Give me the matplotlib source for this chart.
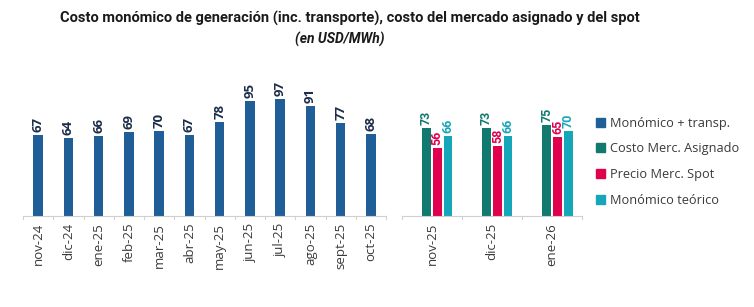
import matplotlib
matplotlib.use('Agg')
import matplotlib.pyplot as plt
import numpy as np

plt.rcParams['font.family'] = ['Open Sans', 'DejaVu Sans']

# historic monthly values
meses = ['nov-24', 'dic-24', 'ene-25', 'feb-25', 'mar-25', 'abr-25', 'may-25',
         'jun-25', 'jul-25', 'ago-25', 'sept-25', 'oct-25']
monomico = [67, 64, 66, 69, 70, 67, 78, 95, 97, 91, 77, 68]

# projection
meses_proy = ['nov-25', 'dic-25', 'ene-26']
costo_asignado = [73, 73, 75]
precio_spot = [56, 58, 65]
monomico_teorico = [66, 66, 70]

series_names = ['Monómico + transp.', 'Costo Merc. Asignado', 'Precio Merc. Spot', 'Monómico teórico']
colors = ['#1F5E96', '#12796F', '#E0004D', '#16A6B9']
label_dark = '#1B2D4A'

fig = plt.figure(figsize=(7.54, 3.07), dpi=100)

ax1 = fig.add_axes([0.0305, 0.297, 0.4815, 0.433])
ax2 = fig.add_axes([0.533, 0.297, 0.239, 0.433])

for ax in (ax1, ax2):
    for s in ['top', 'right', 'left']:
        ax.spines[s].set_visible(False)
    ax.spines['bottom'].set_color('#D0D0D0')
    ax.set_yticks([])
    ax.set_ylim(0, 110)
    ax.tick_params(axis='x', length=0, labelsize=9.5, labelcolor='#3A3A3A', pad=5)

# left chart
x1 = np.arange(len(meses))
ax1.bar(x1, monomico, width=0.31, color=colors[0])
for xi, v in zip(x1, monomico):
    ax1.text(xi, v + 2.5, str(v), rotation=90, ha='center', va='bottom',
             fontsize=9.5, fontweight='bold', color=label_dark)
ax1.set_xlim(-0.5, len(meses) - 0.5)
ax1.set_xticks(x1)
ax1.set_xticklabels(meses, rotation=90)
for b in np.arange(-0.5, len(meses), 1.0):
    ax1.plot([b, b], [0, -2.5], color='#D0D0D0', lw=0.8, clip_on=False)

# right chart (4-series cluster, first series empty)
x2 = np.arange(len(meses_proy))
bw = 0.142
step = 0.18
offsets = [-1.5 * step, -0.5 * step, 0.5 * step, 1.5 * step]
for vals, off, col in zip([costo_asignado, precio_spot, monomico_teorico], offsets[1:], colors[1:]):
    ax2.bar(x2 + off, vals, width=bw, color=col)
    for xi, v in zip(x2 + off, vals):
        ax2.text(xi, v + 2.5, str(v), rotation=90, ha='center', va='bottom',
                 fontsize=9, fontweight='bold', color=col, family=['Roboto'])
ax2.set_xlim(-0.5, len(meses_proy) - 0.5)
ax2.set_xticks(x2)
ax2.set_xticklabels(meses_proy, rotation=90)
for b in np.arange(-0.5, len(meses_proy), 1.0):
    ax2.plot([b, b], [0, -2.5], color='#D0D0D0', lw=0.8, clip_on=False)

# legend
handles = [plt.Rectangle((0, 0), 1, 1, color=c) for c in colors]
fig.legend(handles, series_names, loc='upper left', bbox_to_anchor=(0.79, 0.62),
           frameon=False, fontsize=9.2, labelcolor='#3A3A3A', handlelength=0.7,
           handleheight=0.7, handletextpad=0.4, labelspacing=1.0,
           borderaxespad=0, borderpad=0)

fig.text(0.464, 0.941, 'Costo monómico de generación (inc. transporte), costo del mercado asignado y del spot',
         ha='center', va='center', fontsize=10.5, fontweight='bold', color='#1A1A1A',
         family=['Roboto'])
fig.text(0.451, 0.87, '(en USD/MWh)', ha='center', va='center', fontsize=10,
         fontweight='bold', fontstyle='italic', color='#1A1A1A', family=['Roboto'])

fig.savefig('out.png', dpi=100)
